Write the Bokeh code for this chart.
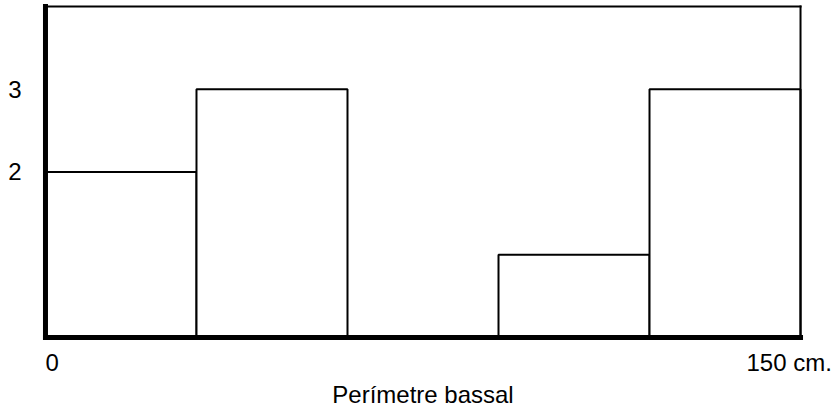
from bokeh.plotting import figure
from bokeh.models import Range1d, FixedTicker
from bokeh.core.properties import value
from bokeh.embed import file_html
from bokeh.resources import INLINE

# ---- data ----
bin_edges = [0, 30, 60, 90, 120, 150]
counts = [2, 3, 0, 1, 3]
y_max = 4
y_tick_values = [2, 3]
x_tick_values = [0, 150]
x_tick_labels = ["0", "150 cm."]
x_title = "Perímetre bassal"

FONT = "Liberation Sans"
FS = "24px"

x_lo, x_hi = bin_edges[0], bin_edges[-1]

# frame spans the whole lower area so the texts below the baseline can be drawn
p = figure(width=834, height=411, output_backend="svg", toolbar_location=None,
           x_axis_location=None,
           x_range=Range1d(x_lo - 0.99, x_hi + 6.75),
           y_range=Range1d(-0.894, y_max + 0.048),
           min_border_left=40, min_border_right=0, min_border_top=2, min_border_bottom=0)

p.grid.visible = False
p.outline_line_color = None
p.background_fill_color = "white"
p.border_fill_color = "white"

# histogram bars
p.quad(left=bin_edges[:-1], right=bin_edges[1:], bottom=0, top=counts,
       fill_color="white", line_color="black", line_width=2)

# frame lines: thin top and right, thick left and bottom
p.segment(x0=[x_lo, x_hi], y0=[y_max, 0], x1=[x_hi, x_hi], y1=[y_max, y_max],
          line_color="black", line_width=2, line_cap="square")
p.segment(x0=[x_lo, x_lo], y0=[0, 0], x1=[x_lo, x_hi], y1=[y_max, 0],
          line_color="black", line_width=5, line_cap="square")

# y axis: only the tick labels
ya = p.yaxis[0]
ya.ticker = FixedTicker(ticks=y_tick_values)
ya.axis_line_color = None
ya.major_tick_line_color = None
ya.minor_tick_line_color = None
ya.major_tick_out = 0
ya.major_tick_in = 0
ya.major_label_standoff = 19
ya.major_label_text_font = FONT
ya.major_label_text_font_size = FS
ya.major_label_text_color = "black"
ya.major_label_text_baseline = "alphabetic"

# x tick labels
p.text(x=[x_tick_values[0]], y=[0], text=[x_tick_labels[0]],
       text_font=value(FONT), text_font_size=value(FS), text_color="black",
       text_align="left", text_baseline="alphabetic", x_offset=0, y_offset=25)
p.text(x=[x_tick_values[1]], y=[0], text=[x_tick_labels[1]],
       text_font=value(FONT), text_font_size=value(FS), text_color="black",
       text_align="left", text_baseline="alphabetic", x_offset=-54, y_offset=25)

# x title centred under the bins
p.text(x=[(x_lo + x_hi) / 2], y=[0], text=[x_title],
       text_font=value(FONT), text_font_size=value(FS), text_color="black",
       text_align="center", text_baseline="alphabetic", y_offset=57)

open("out.html", "w").write(file_html(p, INLINE))
